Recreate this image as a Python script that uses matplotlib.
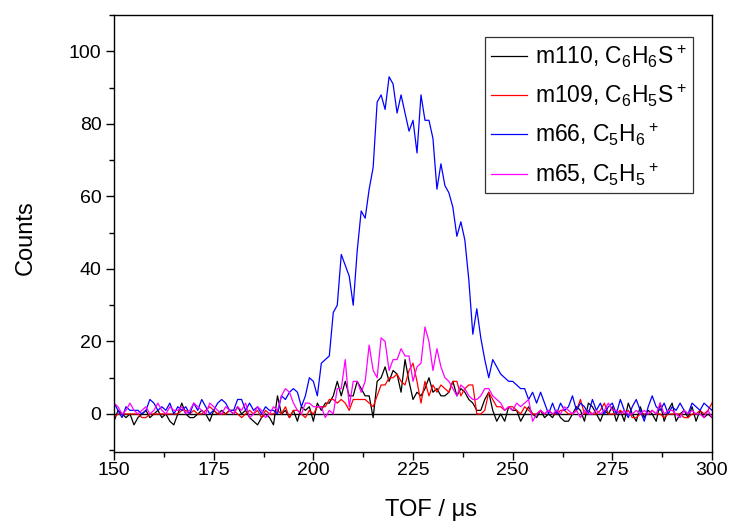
import numpy as np
import matplotlib
matplotlib.use("Agg")
import matplotlib.pyplot as plt
from matplotlib.ticker import MultipleLocator

plt.rcParams['font.family'] = ['Liberation Sans', 'DejaVu Sans']
plt.rcParams['mathtext.fontset'] = 'custom'
plt.rcParams['mathtext.rm'] = 'Liberation Sans'
plt.rcParams['mathtext.default'] = 'regular'

tof = np.arange(150, 301, 1)

m110 = [-2, 1, 0, -1, 0, -3, -1, 0, 1, -1,
        0, 1, -1, 0, -2, -3, 0, 3, 0, -1,
        -1, 0, 1, 0, -2, 1, 0, 1, 0, 1,
        0, 2, 0, 1, -1, -2, -3, -1, 0, -1,
        -3, 5, 0, 1, -1, 1, -2, 2, 1, 2,
        -2, 3, 1, 3, 3, 5, 9, 5, 9, 5,
        5, 9, 7, 5, 5, -1, 9, 10, 13, 9,
        12, 11, 6, 15, 9, 4, 6, 5, 7, 10,
        6, 7, 5, 5, 6, 9, 5, 7, 6, 4,
        3, 1, 1, 4, 6, 1, -2, 0, -2, 2,
        1, 1, -2, 0, 2, 0, -1, 1, -1, 0,
        -1, 1, -1, -2, -2, 0, 2, 1, -2, 3,
        2, 0, -2, 1, 0, 2, -2, 1, -2, 3,
        0, -2, 2, -1, 1, 0, -2, 3, -2, 1,
        3, -2, 0, 1, -1, 2, -2, 1, -1, 0, -1]

m109 = [-1, 0, 0, 0, 0, 0, 0, -1, -1, 0,
        0, 0, 0, 0, 0, 0, 0, 1, 1, 0,
        1, 0, 0, 1, 2, 1, 0, 0, 0, 1,
        1, 0, -1, 0, 1, 0, 1, -1, 1, 0,
        0, 1, 0, 2, -1, 1, 1, 0, -1, 1,
        0, 2, 2, 2, 4, 4, 3, 4, 3, 1,
        4, 4, 4, 4, 3, 2, 5, 8, 8, 10,
        10, 11, 9, 8, 12, 14, 9, 3, 9, 5,
        8, 6, 8, 7, 6, 9, 9, 5, 7, 8,
        8, 0, 0, 1, 6, 4, 2, 2, 1, 2,
        2, 1, 0, 2, 1, 0, 0, 1, 0, 1,
        0, 0, 1, 1, 0, 0, 1, 4, 0, 1,
        0, 0, 1, 3, 0, 0, 0, 1, 0, 1,
        -1, -1, 0, 0, 0, 1, 0, 0, -1, 0,
        0, 0, 0, -1, -1, 0, 0, 1, 0, 1, 3]

m66 = [3, 1, -1, 2, 1, 1, 1, 0, 1, 4,
       3, 1, 2, 1, 3, 0, 2, 1, 2, 0,
       3, 1, 4, 2, 0, 1, 3, 4, 3, 1,
       1, 4, 4, 1, 3, 1, 2, 0, 2, 1,
       1, 0, 5, 4, 6, 7, 6, 2, 5, 10,
       9, 5, 14, 15, 16, 28, 30, 44, 41, 38,
       30, 45, 56, 54, 62, 68, 86, 88, 84, 93,
       91, 83, 88, 83, 78, 81, 72, 88, 81, 81,
       76, 62, 69, 63, 61, 57, 49, 53, 48, 37,
       22, 29, 21, 15, 10, 15, 13, 11, 10, 9,
       9, 8, 7, 7, 4, 6, 3, 6, 3, 0,
       3, 0, 3, 1, 2, 5, 1, 3, 2, 0,
       4, 1, 3, 0, 2, 3, 0, 4, 1, -1,
       2, 4, 1, -2, 2, 5, 2, 1, 3, 0,
       2, 1, 3, 1, 0, 3, 2, 1, 3, 2, 1]

m65 = [3, 2, 0, 1, 3, 1, 0, 1, 2, 0,
       1, 3, 1, 0, 2, 1, 1, 2, 0, 1,
       3, 2, 1, 0, 3, 2, 1, 0, 2, 1,
       0, 2, 1, 3, -1, 0, 2, 1, -1, 0,
       2, 1, 5, 7, 6, 3, 1, 0, 3, 3,
       2, 2, 2, -1, 1, 0, 7, 7, 15, 2,
       9, 9, 6, 9, 19, 12, 10, 21, 20, 12,
       15, 15, 18, 16, 16, 9, 13, 14, 24, 20,
       12, 18, 13, 10, 9, 7, 5, 8, 7, 5,
       4, 4, 5, 7, 7, 5, 4, 3, 1, 2,
       1, 3, 2, 3, 4, -2, 0, 1, 0, 1,
       0, 1, 0, 2, 1, 0, 1, -1, 1, 0,
       0, 1, 0, 1, 3, 1, 1, 0, 1, 0,
       0, 1, 0, 1, 0, 1, 0, 3, 0, 1,
       1, 0, -1, 1, 0, 1, 0, 0, -1, 1, -1]

labels = ['m110, C$_6$H$_6$S$^+$', 'm109, C$_6$H$_5$S$^+$',
          'm66, C$_5$H$_6$$^+$', 'm65, C$_5$H$_5$$^+$']
colors = ['#000000', '#ff0000', '#0000ff', '#ff00ff']
series = [m110, m109, m66, m65]

fig = plt.figure(figsize=(7.31, 5.22), dpi=100)
ax = fig.add_axes([0.156, 0.134, 0.818, 0.837])

ax.axhline(0, color='black', lw=1.0, zorder=1)
for ys, c, lab in zip(series, colors, labels):
    ax.plot(tof, ys, color=c, lw=0.9, label=lab, zorder=2)

ax.set_xlim(150, 300)
ax.set_ylim(-10.5, 110)
ax.xaxis.set_major_locator(MultipleLocator(25))
ax.xaxis.set_minor_locator(MultipleLocator(12.5))
ax.yaxis.set_major_locator(MultipleLocator(20))
ax.yaxis.set_minor_locator(MultipleLocator(10))
ax.set_yticks([0, 20, 40, 60, 80, 100])

ax.tick_params(which='major', direction='out', length=6, width=1.0, labelsize=14)
ax.tick_params(axis='x', which='major', pad=1.5)
ax.tick_params(axis='y', which='major', pad=3)
ax.tick_params(which='minor', direction='out', length=3.5, width=1.0)
ax.tick_params(top=False, right=False)
for s in ax.spines.values():
    s.set_linewidth(1.0)

ax.set_xlabel('TOF / μs', fontsize=17)
ax.xaxis.set_label_coords(0.53, -0.108)
ax.set_ylabel('Counts', fontsize=17)
ax.yaxis.set_label_coords(-0.13, 0.49)

leg = ax.legend(loc='upper right', bbox_to_anchor=(0.968, 0.95), borderaxespad=0,
                fontsize=16.5, frameon=True, fancybox=False, edgecolor='black',
                handlelength=1.6, handletextpad=0.35, labelspacing=0.55,
                borderpad=0.25)
leg.get_frame().set_linewidth(0.9)

fig.savefig('out.png', dpi=100)
